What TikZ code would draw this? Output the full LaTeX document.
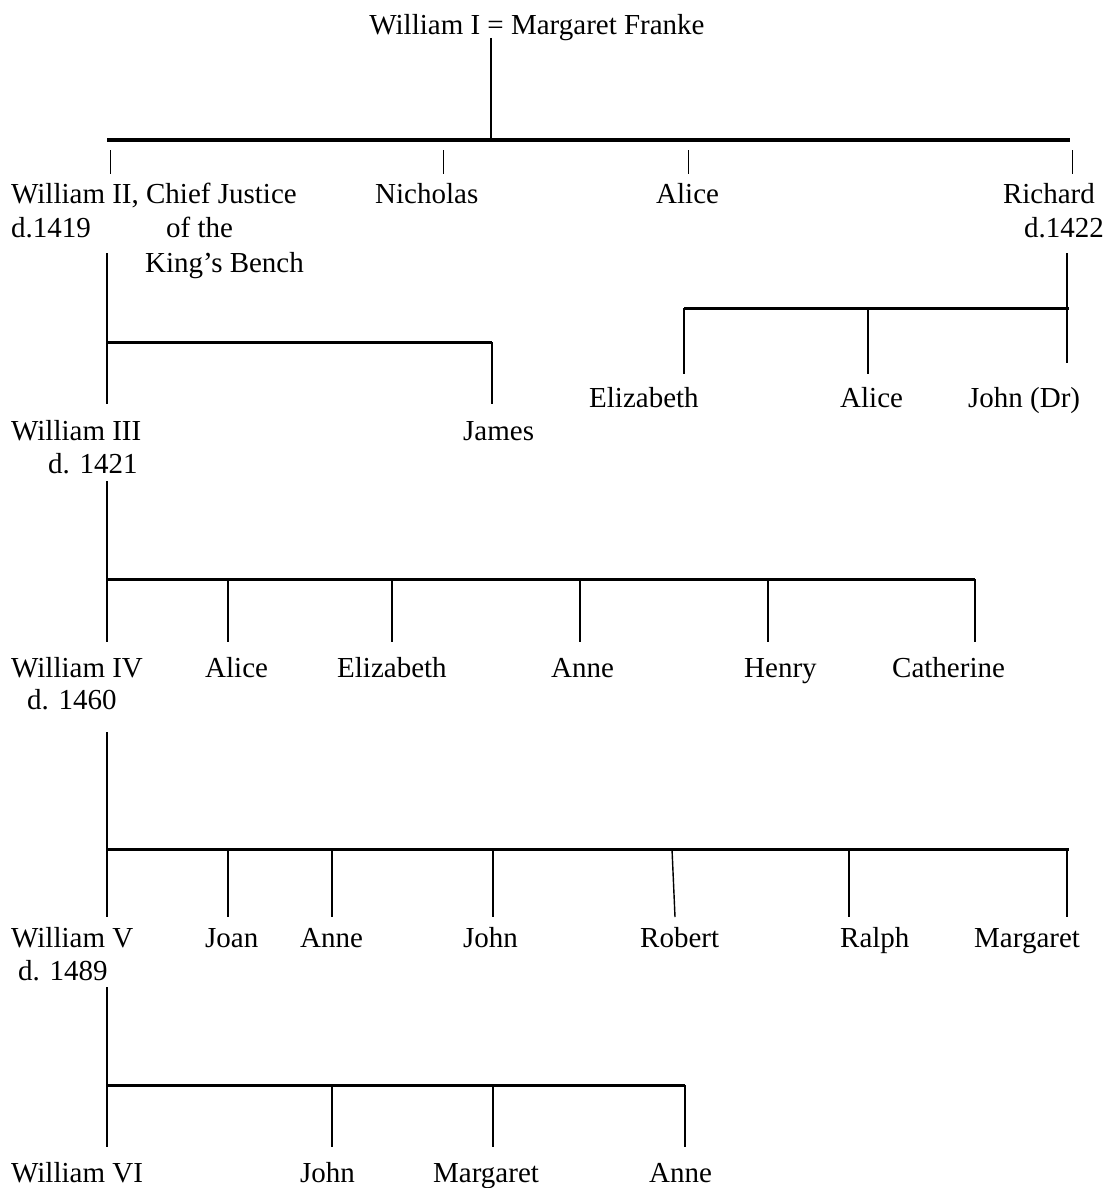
\documentclass[tikz,border=0pt]{standalone}
\usepackage{fontspec}
\setmainfont{Liberation Serif}
\begin{document}
\begin{tikzpicture}[x=1pt,y=-1pt,
  lbl/.style={font=\fontsize{29}{34}\selectfont, inner sep=0pt, anchor=base west},
  lblr/.style={lbl, anchor=base east},
  lblc/.style={lbl, anchor=base},
  bar/.style={line width=3pt},
  stem/.style={line width=1.4pt}]
\useasboundingbox[fill=white] (0,0) rectangle (1106,1188);

% ---------- labels ----------
\node[lblc] (w1) at (537,35) {William I = Margaret Franke};

\node[lbl] (w2) at (11,203) {William II, Chief Justice};
\node[lbl] (w2d) at (11,237) {d.1419};
\node[lbl] (w2o) at (166,237) {of the};
\node[lbl] (w2k) at (145,272) {King’s Bench};
\node[lbl] (nic) at (375,203) {Nicholas};
\node[lbl] (ali1) at (656,203) {Alice};
\node[lblr] (ric) at (1095,203) {Richard};
\node[lblr] (ricd) at (1104,237) {d.1422};

\node[lbl] (eli2) at (589,407) {Elizabeth};
\node[lbl] (ali2) at (840,407) {Alice};
\node[lbl] (joh2) at (968,407) {John (Dr)};

\node[lbl] (w3) at (11,440) {William III};
\node[lbl] (w3d) at (48,473) {d. 1421};
\node[lbl] (jam) at (463,440) {James};

\node[lbl] (w4) at (11,677) {William IV};
\node[lbl] (w4d) at (27,709) {d. 1460};
\node[lbl] (ali3) at (205,677) {Alice};
\node[lbl] (eli3) at (337,677) {Elizabeth};
\node[lbl] (ann3) at (551,677) {Anne};
\node[lbl] (hen3) at (744,677) {Henry};
\node[lbl] (cat3) at (892,677) {Catherine};

\node[lbl] (w5) at (11,947) {William V};
\node[lbl] (w5d) at (18,980) {d. 1489};
\node[lbl] (joa4) at (205,947) {Joan};
\node[lbl] (ann4) at (300,947) {Anne};
\node[lbl] (joh4) at (463,947) {John};
\node[lbl] (rob4) at (640,947) {Robert};
\node[lbl] (ral4) at (840,947) {Ralph};
\node[lbl] (mar4) at (974,947) {Margaret};

\node[lbl] (w6) at (11,1182) {William VI};
\node[lbl] (joh5) at (300,1182) {John};
\node[lbl] (mar5) at (433,1182) {Margaret};
\node[lbl] (ann5) at (649,1182) {Anne};

% ---------- generation 1 ----------
\coordinate (g1top) at (491,38);
\coordinate (g1mid) at (491,140);
\coordinate (g1l) at (107,140);
\coordinate (g1r) at (1070,140);
\draw[stem] (g1top) -- (g1mid);
\draw[bar] (g1l) -- (g1r);
\foreach \n/\x in {t1/110, t2/443, t3/688, t4/1072}{
  \coordinate (\n a) at (\x,150);
  \coordinate (\n b) at (\x,174);
  \draw[line width=0.9pt] (\n a) -- (\n b);
}

% ---------- William II's children ----------
\coordinate (w2s) at (107,253);
\coordinate (w2bar) at (107,342);
\coordinate (w3top) at (107,404);
\coordinate (jamb) at (492,342);
\coordinate (jamt) at (492,404);
\draw[stem] (w2s) -- (w3top);
\draw[bar] (w2bar) -- (jamb);
\draw[stem] (jamb) -- (jamt);

% ---------- Richard's children ----------
\coordinate (rics) at (1067,253);
\coordinate (ricb) at (1067,308);
\coordinate (ricj) at (1067,363);
\coordinate (elib) at (684,308);
\coordinate (elit) at (684,374);
\coordinate (alib) at (868,308);
\coordinate (alit) at (868,374);
\draw[stem] (rics) -- (ricj);
\draw[bar] (elib) -- (1069,308);
\draw[stem] (elib) -- (elit);
\draw[stem] (alib) -- (alit);

% ---------- William III's children ----------
\coordinate (w3s) at (107,481);
\coordinate (w3b) at (107,579);
\coordinate (w3e) at (975,579);
\draw[stem] (w3s) -- (107,642);
\draw[bar] (w3b) -- (w3e);
\foreach \n/\x in {c1/228, c2/392, c3/580, c4/768, c5/975}{
  \coordinate (\n a) at (\x,579);
  \coordinate (\n b) at (\x,642);
  \draw[stem] (\n a) -- (\n b);
}

% ---------- William IV's children ----------
\coordinate (w4s) at (107,732);
\coordinate (w4b) at (107,849);
\coordinate (w4e) at (1069,849);
\draw[stem] (w4s) -- (107,917);
\draw[bar] (w4b) -- (w4e);
\foreach \n/\x/\y in {d1/228/228, d2/332/332, d3/493/493, d4/672/675, d5/849/849, d6/1067/1067}{
  \coordinate (\n a) at (\x,849);
  \coordinate (\n b) at (\y,917);
  \draw[stem] (\n a) -- (\n b);
}

% ---------- William V's children ----------
\coordinate (w5s) at (107,987);
\coordinate (w5b) at (107,1085);
\coordinate (w5e) at (685,1085);
\draw[stem] (w5s) -- (107,1147);
\draw[bar] (w5b) -- (w5e);
\foreach \n/\x in {e1/332, e2/493, e3/685}{
  \coordinate (\n a) at (\x,1085);
  \coordinate (\n b) at (\x,1147);
  \draw[stem] (\n a) -- (\n b);
}
\end{tikzpicture}
\end{document}
